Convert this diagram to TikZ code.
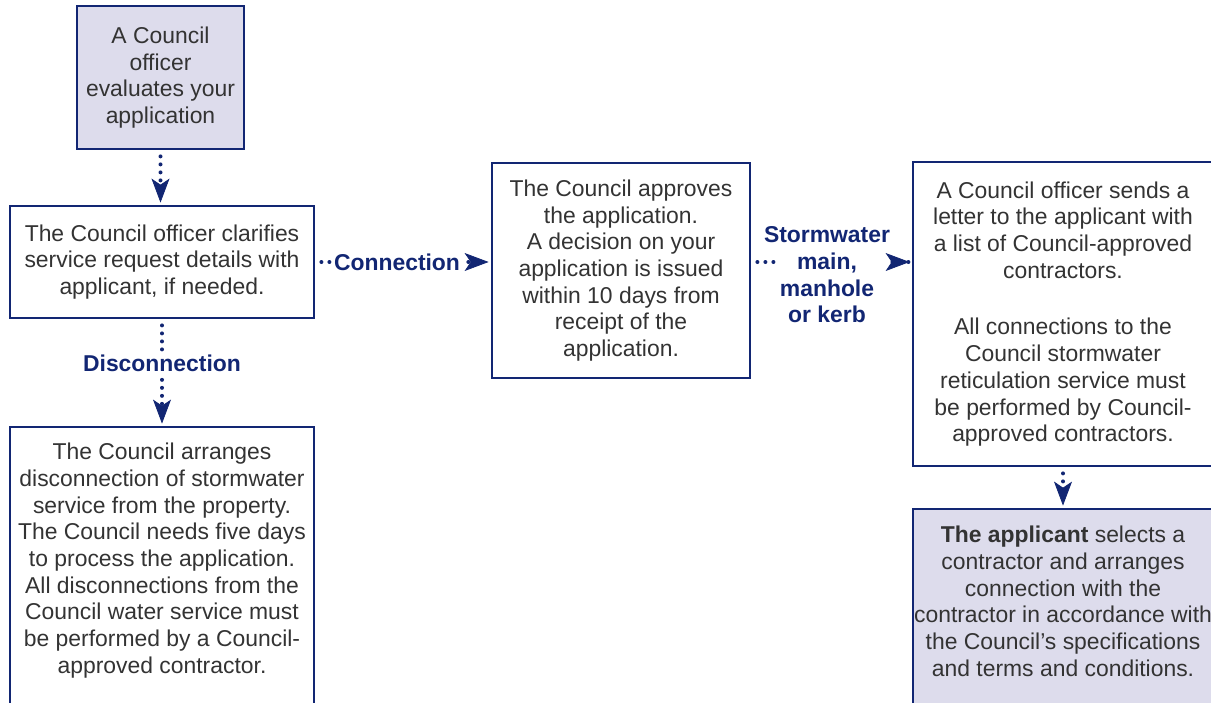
\documentclass[tikz,border=0pt]{standalone}
\usepackage{fontspec}
\setmainfont{Liberation Sans}
\usetikzlibrary{arrows.meta}
\definecolor{navy}{RGB}{18,38,115}
\definecolor{lavender}{RGB}{221,220,236}
\definecolor{bodygray}{RGB}{51,51,51}
\begin{document}
\begin{tikzpicture}[x=0.5pt,y=-0.5pt,
  box/.style={draw=navy, line width=1.4pt, align=center, text=bodygray,
    font=\fontsize{11.45}{13.35}\selectfont, inner sep=0pt},
  shaded/.style={box, fill=lavender},
  lbl/.style={font=\fontsize{11.45}{13.35}\selectfont\bfseries, text=navy,
    inner sep=1pt, align=center},
  dotline/.style={navy, line width=2pt, line cap=round, dash pattern=on 0pt off 4pt,
    shorten <=3pt},
  dotlink/.style={dotline, shorten >=1pt,
    -{Stealth[length=12pt,width=9pt,inset=3pt,line width=0.4pt]}}]
\useasboundingbox (0,0) rectangle (1211,702);
% boxes
\node[shaded, minimum width=83.5pt, minimum height=71.5pt] (evaluate) at (160.5,77.5)
  {A Council\\officer\\evaluates your\\application};
\node[box, minimum width=152pt, minimum height=56pt] (clarify) at (162,262)
  {The Council officer clarifies\\service request details with\\applicant, if needed.};
\node[box, minimum width=129pt, minimum height=107.5pt] (approve) at (621,270.5)
  {The Council approves\\the application.\\A decision on your\\application is issued\\within 10 days from\\receipt of the\\application.};
\node[box, minimum width=150pt, minimum height=152pt] (letter) at (1063,314)
  {A Council officer sends a\\letter to the applicant with\\a list of Council-approved\\contractors.\\[15pt]All connections to the\\Council stormwater\\reticulation service must\\be performed by Council-\\approved contractors.};
\node[shaded, minimum width=150pt, minimum height=105.5pt] (select) at (1063,614.5)
  {\textbf{The applicant} selects a\\contractor and arranges\\connection with the\\contractor in accordance with\\the Council’s specifications\\and terms and conditions.\\\mbox{}};
\node[box, minimum width=152pt, minimum height=144.5pt] (disconnect) at (162,571.5)
  {The Council arranges\\disconnection of stormwater\\service from the property.\\The Council needs five days\\to process the application.\\All disconnections from the\\Council water service must\\be performed by a Council-\\approved contractor.\\\mbox{}};
% labels
\node[lbl] (disc) at (162,363) {Disconnection};
\node[lbl] (conn) at (397,262) {Connection};
\node[lbl] (storm) at (827,275) {Stormwater\\main,\\manhole\\or kerb};
% connectors
\draw[dotlink] (evaluate.south) -- (evaluate.south |- clarify.north);
\draw[dotline] (clarify.south) -- (disc.north);
\draw[dotlink] (disc.south) -- (disconnect.north);
\draw[dotline] (clarify.east) -- (conn.west);
\draw[dotlink] (conn.east) -- (conn.east -| approve.west);
\draw[dotline, shorten >=-9pt] (approve.east |- clarify.east) -- (storm.west |- clarify.east);
\draw[dotlink, shorten <=-8pt] (storm.east |- clarify.east) -- (letter.west |- clarify.east);
\draw[dotlink] (letter.south) -- (select.north);
\end{tikzpicture}
\end{document}
